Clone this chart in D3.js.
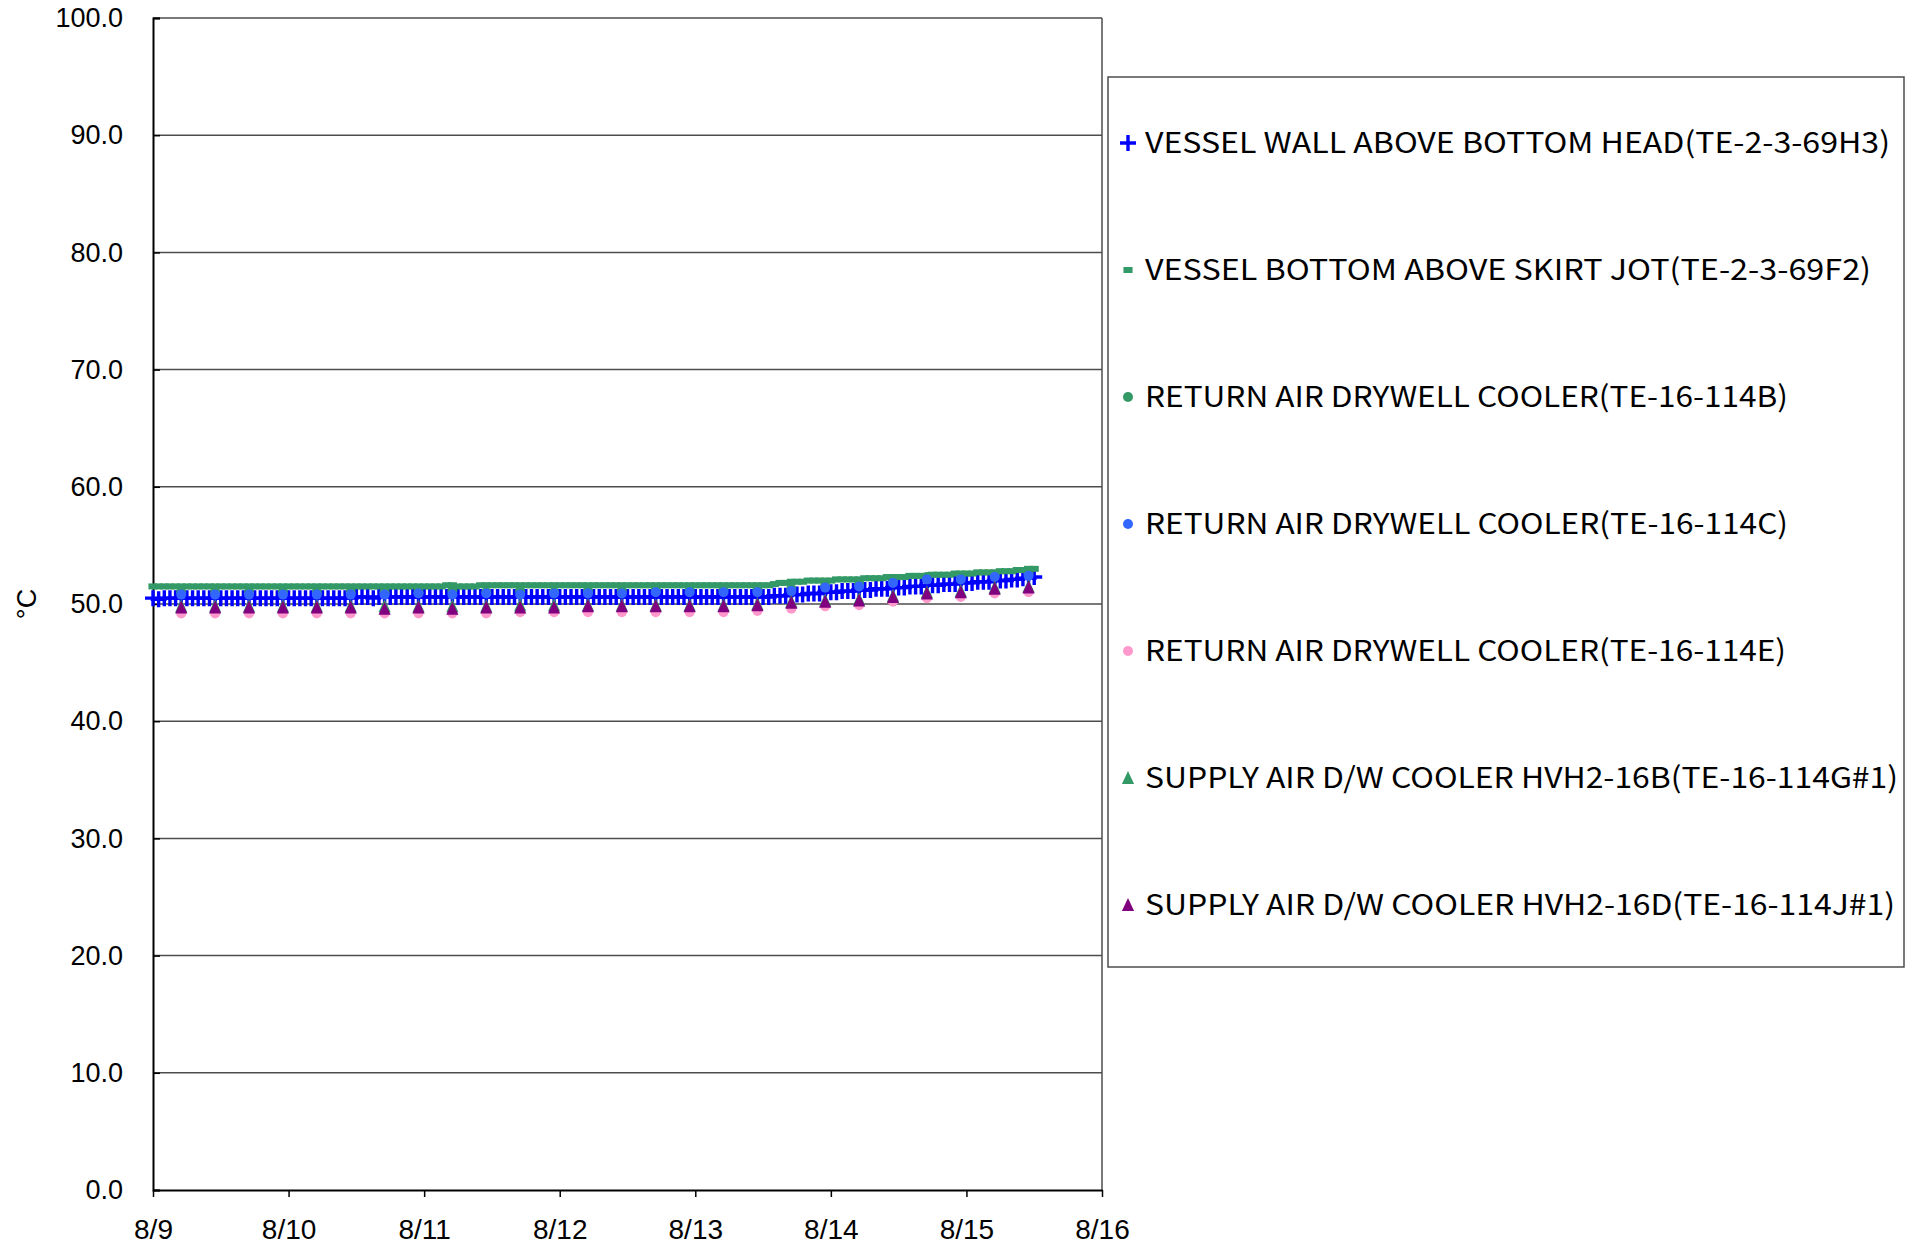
<!DOCTYPE html>
<html>
<head>
<meta charset="utf-8">
<script src="https://cdn.jsdelivr.net/npm/d3@7"></script>
<style>
  body { margin: 0; background: #fff; }
  svg { display: block; }
  .tick text { font-family: "Liberation Sans", Arial, sans-serif; }
</style>
</head>
<body>
<div id="chart"></div>
<script>
// chart size
const width = 1914;
const height = 1245;
const plot = { left: 153, right: 1102, top: 18, bottom: 1190 };

// hourly series start 8/9 0:00, six-hourly series start 8/9 5:00
const hourlyStart = new Date(2011, 7, 9, 0, 0);
const sixHourStart = new Date(2011, 7, 9, 5, 0);
const xDomain = [new Date(2011, 7, 9), new Date(2011, 7, 16)];
const yTicks = [0, 10, 20, 30, 40, 50, 60, 70, 80, 90, 100];

const seriesNames = [
    "VESSEL WALL ABOVE BOTTOM HEAD(TE-2-3-69H3)",
    "VESSEL BOTTOM ABOVE SKIRT JOT(TE-2-3-69F2)",
    "RETURN AIR DRYWELL COOLER(TE-16-114B)",
    "RETURN AIR DRYWELL COOLER(TE-16-114C)",
    "RETURN AIR DRYWELL COOLER(TE-16-114E)",
    "SUPPLY AIR D/W COOLER HVH2-16B(TE-16-114G#1)",
    "SUPPLY AIR D/W COOLER HVH2-16D(TE-16-114J#1)"
];

// hourly readings (TE-2-3-69H3)
const wallH3 = [
    50.5, 50.4, 50.5, 50.5, 50.5, 50.5, 50.5, 50.5, 50.5, 50.5, 50.5, 50.5, 50.5, 50.5, 50.5, 50.5, 50.5, 50.5, 50.5, 50.5, 50.5, 50.5, 50.5, 50.5,
    50.5, 50.5, 50.5, 50.5, 50.5, 50.5, 50.5, 50.5, 50.5, 50.5, 50.5, 50.5, 50.6, 50.6, 50.6, 50.5, 50.6, 50.6, 50.6, 50.6, 50.6, 50.6, 50.6, 50.6,
    50.6, 50.6, 50.6, 50.6, 50.6, 50.6, 50.6, 50.6, 50.6, 50.6, 50.6, 50.6, 50.6, 50.6, 50.6, 50.6, 50.6, 50.6, 50.6, 50.6, 50.6, 50.6, 50.6, 50.6,
    50.6, 50.6, 50.6, 50.6, 50.6, 50.6, 50.6, 50.6, 50.6, 50.6, 50.6, 50.6, 50.6, 50.6, 50.6, 50.6, 50.6, 50.6, 50.6, 50.6, 50.6, 50.6, 50.6, 50.6,
    50.6, 50.6, 50.6, 50.6, 50.6, 50.6, 50.6, 50.6, 50.6, 50.6, 50.6, 50.6, 50.6, 50.6, 50.7, 50.7, 50.7, 50.8, 50.8, 50.8, 50.9, 50.9, 50.9, 51.0,
    51.0, 51.0, 51.1, 51.1, 51.1, 51.2, 51.2, 51.2, 51.3, 51.3, 51.3, 51.4, 51.4, 51.4, 51.5, 51.5, 51.5, 51.6, 51.6, 51.6, 51.7, 51.7, 51.7, 51.8,
    51.8, 51.8, 51.9, 51.9, 51.9, 52.0, 52.0, 52.0, 52.1, 52.1, 52.2, 52.2, 52.3
];

// hourly readings (TE-2-3-69F2)
const bottomF2 = [
    51.5, 51.5, 51.5, 51.5, 51.5, 51.5, 51.5, 51.5, 51.5, 51.5, 51.5, 51.5, 51.5, 51.5, 51.5, 51.5, 51.5, 51.5, 51.5, 51.5, 51.5, 51.5, 51.5, 51.5,
    51.5, 51.5, 51.5, 51.5, 51.5, 51.5, 51.5, 51.5, 51.5, 51.5, 51.5, 51.5, 51.5, 51.5, 51.5, 51.5, 51.5, 51.5, 51.5, 51.5, 51.5, 51.5, 51.5, 51.5,
    51.5, 51.5, 51.5, 51.5, 51.6, 51.6, 51.5, 51.5, 51.5, 51.5, 51.6, 51.6, 51.6, 51.6, 51.6, 51.6, 51.6, 51.6, 51.6, 51.6, 51.6, 51.6, 51.6, 51.6,
    51.6, 51.6, 51.6, 51.6, 51.6, 51.6, 51.6, 51.6, 51.6, 51.6, 51.6, 51.6, 51.6, 51.6, 51.6, 51.6, 51.6, 51.6, 51.6, 51.6, 51.6, 51.6, 51.6, 51.6,
    51.6, 51.6, 51.6, 51.6, 51.6, 51.6, 51.6, 51.6, 51.6, 51.6, 51.6, 51.6, 51.6, 51.6, 51.7, 51.8, 51.8, 51.9, 51.9, 51.9, 52.0, 52.0, 52.0, 52.0,
    52.0, 52.1, 52.1, 52.1, 52.1, 52.1, 52.2, 52.2, 52.2, 52.2, 52.3, 52.3, 52.3, 52.3, 52.4, 52.4, 52.4, 52.4, 52.5, 52.5, 52.5, 52.5, 52.6, 52.6,
    52.6, 52.6, 52.7, 52.7, 52.7, 52.7, 52.8, 52.8, 52.8, 52.9, 52.9, 53.0, 53.0
];

// six-hourly readings
const returnB = [
    51.0, 51.0, 51.0, 51.0, 51.0, 51.0, 51.0, 51.0, 51.1, 51.0, 51.1, 51.0, 51.1, 51.1, 51.2, 51.2,
    51.2, 51.2, 51.3, 51.6, 51.7, 52.0, 52.3, 52.3, 52.5, 52.6
];
const returnC = [
    50.8, 50.8, 50.8, 50.8, 50.8, 50.8, 50.8, 50.9, 50.8, 50.9, 50.8, 50.9, 50.9, 50.9, 51.0, 51.0,
    51.0, 51.0, 51.1, 51.4, 51.5, 51.8, 52.1, 52.1, 52.3, 52.4
];
const returnE = [
    49.2, 49.2, 49.2, 49.2, 49.2, 49.2, 49.2, 49.2, 49.2, 49.2, 49.3, 49.3, 49.3, 49.3, 49.3, 49.3,
    49.3, 49.4, 49.6, 49.8, 49.9, 50.2, 50.5, 50.6, 50.9, 51.0
];
const supplyG = [
    49.8, 49.8, 49.8, 49.8, 49.8, 49.8, 49.8, 49.8, 49.8, 49.8, 49.9, 49.9, 49.9, 49.9, 49.9, 49.9,
    49.9, 50.0, 50.2, 50.3, 50.4, 50.7, 51.0, 51.1, 51.4, 51.5
];
const supplyJ = [
    49.7, 49.7, 49.7, 49.7, 49.7, 49.7, 49.6, 49.7, 49.6, 49.7, 49.7, 49.7, 49.8, 49.8, 49.8, 49.8,
    49.8, 49.9, 50.1, 50.2, 50.3, 50.6, 50.9, 51.0, 51.3, 51.4
];

const colors = ["#0000ff", "#339966", "#339966", "#3366ff", "#ff99cc", "#339966", "#800080"];
const shapes = ["plus", "dash", "circle", "circle", "circle", "triangle", "triangle"];

function hourly(values) {
    return values.map((v, i) => ({ date: d3.timeHour.offset(hourlyStart, i), value: v }));
}
function sixHourly(values) {
    return values.map((v, i) => ({ date: d3.timeHour.offset(sixHourStart, i * 6), value: v }));
}

const series = [
    hourly(wallH3), hourly(bottomF2),
    sixHourly(returnB), sixHourly(returnC), sixHourly(returnE),
    sixHourly(supplyG), sixHourly(supplyJ)
];

const svg = d3.select("#chart").append("svg")
    .attr("width", width)
    .attr("height", height);

const xScale = d3.scaleTime().domain(xDomain).range([plot.left, plot.right]);
const yScale = d3.scaleLinear().domain([0, 100]).range([plot.bottom, plot.top]);

// gridlines
svg.append("g")
    .selectAll("line")
    .data(yTicks.filter(d => d > 0))
    .enter()
    .append("line")
    .attr("x1", plot.left)
    .attr("x2", plot.right)
    .attr("y1", d => yScale(d))
    .attr("y2", d => yScale(d))
    .attr("stroke", "#4d4d4d")
    .attr("stroke-width", 1.5);

// right border
svg.append("line")
    .attr("x1", plot.right).attr("x2", plot.right)
    .attr("y1", plot.top).attr("y2", plot.bottom)
    .attr("stroke", "#4d4d4d").attr("stroke-width", 1.5);

// y axis
const yAxis = d3.axisLeft(yScale)
    .tickValues(yTicks)
    .tickFormat(d3.format(".1f"))
    .tickSize(-7)
    .tickPadding(30);

svg.append("g")
    .attr("transform", "translate(" + plot.left + ",0)")
    .call(yAxis)
    .call(g => g.select(".domain").attr("stroke", "#000").attr("stroke-width", 2))
    .call(g => g.selectAll(".tick line").attr("stroke", "#000").attr("stroke-width", 1.5))
    .call(g => g.selectAll("text").attr("font-size", 27).attr("fill", "#000"));

// x axis
const xAxis = d3.axisBottom(xScale)
    .ticks(d3.timeDay.every(1))
    .tickFormat(d3.timeFormat("%-m/%-d"))
    .tickSizeInner(7)
    .tickSizeOuter(0)
    .tickPadding(22);

svg.append("g")
    .attr("transform", "translate(0," + plot.bottom + ")")
    .call(xAxis)
    .call(g => g.select(".domain").attr("stroke", "#000").attr("stroke-width", 2))
    .call(g => g.selectAll(".tick line").attr("stroke", "#000").attr("stroke-width", 1.5))
    .call(g => g.selectAll("text").attr("font-size", 28).attr("fill", "#000"));

// y label
svg.append("text")
    .attr("transform", "translate(36," + yScale(50) + ")rotate(-90)")
    .attr("text-anchor", "middle")
    .attr("font-family", "Liberation Sans, Arial, sans-serif")
    .attr("font-size", 27)
    .text("°C");

// marker drawing
function drawMarker(sel, shape, color, size) {
    if (shape === "plus") {
        sel.append("path")
            .attr("d", "M" + (-size / 2) + ",0H" + (size / 2) + "M0," + (-size / 2) + "V" + (size / 2))
            .attr("stroke", color).attr("stroke-width", 3.4).attr("fill", "none");
    } else if (shape === "dash") {
        sel.append("rect")
            .attr("x", -size * 0.35).attr("y", -3)
            .attr("width", size * 0.7).attr("height", 6)
            .attr("fill", color);
    } else if (shape === "circle") {
        sel.append("circle").attr("r", size / 3).attr("fill", color);
    } else {
        const h = size * 0.75;
        sel.append("path")
            .attr("d", "M0," + (-h / 2 - 1) + "L" + (size * 0.38) + "," + (h / 2) + "L" + (-size * 0.38) + "," + (h / 2) + "Z")
            .attr("fill", color);
    }
}

const markerSizes = [16, 13, 15, 15, 15, 16, 16];

series.forEach((data, s) => {
    const g = svg.append("g").attr("class", "series-" + s);
    g.selectAll("g")
        .data(data)
        .enter()
        .append("g")
        .attr("transform", d => "translate(" + xScale(d.date) + "," + yScale(d.value) + ")")
        .each(function () {
            drawMarker(d3.select(this), shapes[s], colors[s], markerSizes[s]);
        });
});

// legend
const legend = svg.append("g");
legend.append("rect")
    .attr("x", 1108).attr("y", 77)
    .attr("width", 796).attr("height", 890)
    .attr("fill", "#fff")
    .attr("stroke", "#4d4d4d")
    .attr("stroke-width", 1.5);

const legendWidths = [745, 726, 643, 643, 641, 753, 750];

seriesNames.forEach((name, i) => {
    const y = 143 + i * 127;
    const item = legend.append("g").attr("transform", "translate(1128," + y + ")");
    drawMarker(item, shapes[i], colors[i], markerSizes[i]);
    legend.append("text")
        .attr("x", 1145)
        .attr("y", y + 10)
        .attr("font-family", "Noto Sans CJK JP, Liberation Sans, sans-serif")
        .attr("font-size", 29)
        .attr("textLength", legendWidths[i])
        .attr("lengthAdjust", "spacingAndGlyphs")
        .text(name);
});
</script>
</body>
</html>
